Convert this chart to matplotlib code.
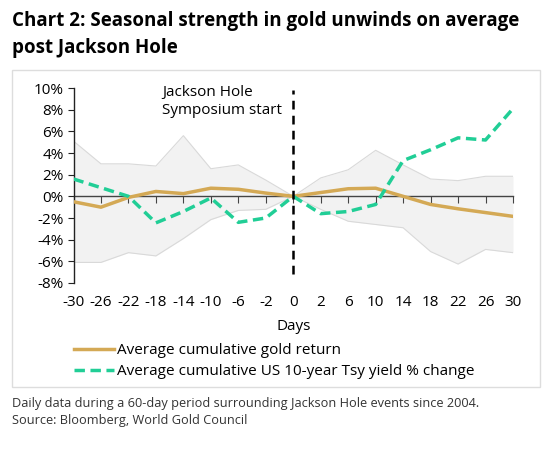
import numpy as np
import matplotlib
matplotlib.use('Agg')
import matplotlib.pyplot as plt
from matplotlib.patches import Rectangle

plt.rcParams['font.family'] = ['Open Sans', 'DejaVu Sans']

days = [-30, -26, -22, -18, -14, -10, -6, -2, 0, 2, 6, 10, 14, 18, 22, 26, 30]
gold = [-0.5, -1.0, -0.1, 0.45, 0.25, 0.75, 0.65, 0.3, 0.0,
        0.35, 0.7, 0.75, 0.0, -0.75, -1.15, -1.5, -1.85]
yield_chg = [1.6, 0.8, 0.0, -2.45, -1.4, -0.15, -2.4, -2.0, 0.0,
             -1.6, -1.4, -0.75, 3.3, 4.3, 5.4, 5.2, 8.1]
band_hi = [5.1, 3.0, 3.0, 2.8, 5.6, 2.55, 2.9, 1.5, 0.0,
           1.7, 2.45, 4.25, 2.9, 1.6, 1.45, 1.85, 1.85]
band_lo = [-6.1, -6.1, -5.2, -5.5, -3.9, -2.15, -1.3, -1.2, 0.0,
           -1.2, -2.3, -2.6, -2.9, -5.1, -6.25, -4.9, -5.2]
yticks = list(range(-8, 11, 2))

GOLD = '#D4A955'
GREEN = '#21CE96'
FS = 11

fig = plt.figure(figsize=(5.51, 4.49), dpi=100)
ax = fig.add_axes([73.5 / 551, 1 - 283 / 449, (513 - 73.5) / 551, 195 / 449])

# chart frame
fig.patches.append(Rectangle((12 / 551, 1 - 387 / 449), 528 / 551, 317 / 449,
                             transform=fig.transFigure, fill=False,
                             edgecolor='#DDDDDD', linewidth=1))

x = np.arange(len(days))
ax.fill_between(x, band_lo, band_hi, color='#F2F2F2', linewidth=0, zorder=1)
ax.plot(x, band_hi, color='#D9D9D9', lw=0.8, zorder=1)
ax.plot(x, band_lo, color='#D9D9D9', lw=0.8, zorder=1)

l1, = ax.plot(x, gold, color=GOLD, lw=2.5, zorder=3,
              label='Average cumulative gold return')
l2, = ax.plot(x, yield_chg, color=GREEN, lw=2.5, dashes=(3, 1.6), zorder=4,
              label='Average cumulative US 10-year Tsy yield % change')

ev = days.index(0)
ax.vlines(ev, -7.2, 9.8, colors='black', lw=1.8, linestyles=(0, (3.5, 2.5)), zorder=5)
ax.text(ev - 4.76, 10.3, 'Jackson Hole\nSymposium start', fontsize=FS,
        va='top', ha='left', linespacing=1.25)

ax.set_xlim(0, len(days) - 1)
ax.set_ylim(-8, 10)
ax.set_yticks(yticks)
ax.set_yticklabels([f'{v}%' for v in yticks], fontsize=FS)
for s in ['top', 'right']:
    ax.spines[s].set_visible(False)
ax.spines['left'].set_color('#222222')
ax.spines['left'].set_linewidth(1)
ax.spines['bottom'].set_position(('data', 0))
ax.spines['bottom'].set_color('#444444')
ax.spines['bottom'].set_linewidth(1)
ax.spines['bottom'].set_zorder(2)
ax.set_xticks(x)
ax.tick_params(axis='x', direction='out', length=5, color='#444444',
               labelbottom=False)
ax.tick_params(axis='y', direction='out', length=4, color='#222222', pad=3)

sec = ax.secondary_xaxis('bottom')
sec.set_xticks(x)
sec.set_xticklabels([str(d) for d in days], fontsize=FS)
sec.tick_params(length=0, pad=9)
sec.spines['bottom'].set_visible(False)
sec.set_xlabel('Days', fontsize=FS, labelpad=6)

fig.legend(handles=[l1, l2], loc='upper left', bbox_to_anchor=(74 / 551, 1 - 343 / 449),
           frameon=False, fontsize=FS, handlelength=2.6, handletextpad=0.2,
           labelspacing=0.4, borderaxespad=0, borderpad=0)

fig.text(12 / 551, 1 - 11 / 449,
         'Chart 2: Seasonal strength in gold unwinds on average\npost Jackson Hole',
         fontsize=13.5, fontweight='bold', va='top', ha='left', linespacing=1.5)
fig.text(12 / 551, 1 - 397 / 449,
         'Daily data during a 60-day period surrounding Jackson Hole events since 2004.\n'
         'Source: Bloomberg, World Gold Council',
         fontsize=9.2, color='#333333', va='top', ha='left', linespacing=1.4)

fig.savefig('out.png', dpi=100)
